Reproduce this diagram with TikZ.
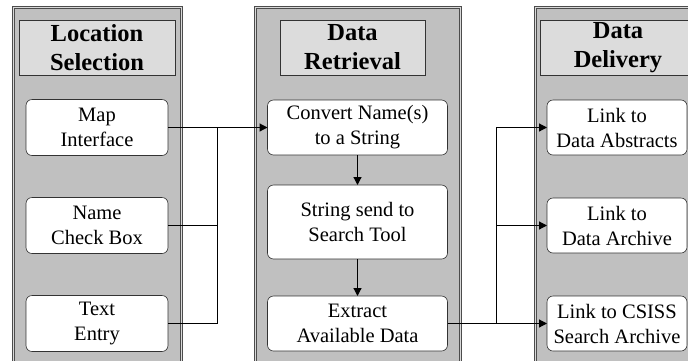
\documentclass[tikz,border=0pt]{standalone}
\usepackage{fontspec}
\setmainfont{Liberation Serif}
\usetikzlibrary{positioning}
\usetikzlibrary{arrows.meta}

\definecolor{panelgray}{RGB}{192,192,192}
\definecolor{titlegray}{RGB}{220,220,220}
\tikzset{
	panel/.style={draw=black!70, double=panelgray!60, double distance=1.2pt, line width=0.7pt, fill=panelgray, anchor=north west, inner sep=0pt},
	titlebox/.style={draw=black!80, line width=0.6pt, fill=titlegray, align=center, inner sep=0pt, minimum height=55pt, font=\fontsize{24.5}{29}\selectfont\bfseries},
	stepbox/.style={draw=black!80, line width=0.6pt, fill=white, rounded corners=6pt, align=center, inner sep=0pt, outer sep=0pt, minimum height=56pt, font=\fontsize{20.5}{25}\selectfont},
	wire/.style={draw=black, line width=1.2pt},
	flowarrow/.style={wire, -{Triangle[length=8pt,width=8pt]}}
}

\begin{document}
\begin{tikzpicture}[x=1pt,y=1pt]
	\clip (0,0) rectangle (688,-360);
	\fill[white] (0,0) rectangle (688,-360);
	
	% the three panels
	\node [panel, minimum width=168pt, minimum height=370pt] at (13,-7) (pLoc) {};
	\node [panel, minimum width=205pt, minimum height=370pt] at (255,-7) (pRet) {};
	\node [panel, minimum width=180pt, minimum height=370pt] at (535,-7) (pDel) {};
	
	% titles
	\node [titlebox, minimum width=156pt] at (97,-47.5) (tLoc) {Location\\Selection};
	\node [titlebox, minimum width=145pt] at (352.5,-47.5) (tRet) {Data\\Retrieval};
	\node [titlebox, minimum width=156pt] at (618,-47.5) (tDel) {Data\\Delivery};
	
	% location selection
	\node [stepbox, minimum width=142pt] at (97,-127.5) (map) {Map\\Interface};
	\node [stepbox, minimum width=142pt, below=42pt of map] (name) {Name\\Check Box};
	\node [stepbox, minimum width=142pt, below=42pt of name] (text) {Text\\Entry};
	
	% data retrieval
	\node [stepbox, minimum width=180pt, minimum height=55pt] at (357.5,-127.5) (convert) {Convert Name(s)\\to a String};
	\node [stepbox, minimum width=180pt, minimum height=74pt, below=30pt of convert] (send) {String send to\\Search Tool};
	\node [stepbox, minimum width=180pt, minimum height=55pt, below=37pt of send] (extract) {Extract\\Available Data};
	
	% data delivery
	\node [stepbox, minimum width=140pt, minimum height=55pt] at (617,-127.5) (abstracts) {Link to\\Data Abstracts};
	\node [stepbox, minimum width=140pt, minimum height=55pt, below=43pt of abstracts] (archive) {Link to\\Data Archive};
	\node [stepbox, minimum width=140pt, minimum height=55pt, below=43pt of archive] (csiss) {Link to CSISS\\Search Archive};
	
	% connectors
	\coordinate (jLoc) at (217.5,-127.5);
	\coordinate (jDel) at (496.5,-323.5);
	\draw [flowarrow] (map.east) -- (convert.west);
	\draw [wire] (name.east) -| (jLoc); \draw [wire] (text.east) -| (jLoc);
	\draw [flowarrow] (convert.south) -- (send.north); \draw [flowarrow] (send.south) -- (extract.north);
	\draw [flowarrow] (extract.east) -- (csiss.west);
	\draw [flowarrow] (jDel) |- (abstracts.west); \draw [flowarrow] (jDel) |- (archive.west);
	
\end{tikzpicture}
\end{document}
